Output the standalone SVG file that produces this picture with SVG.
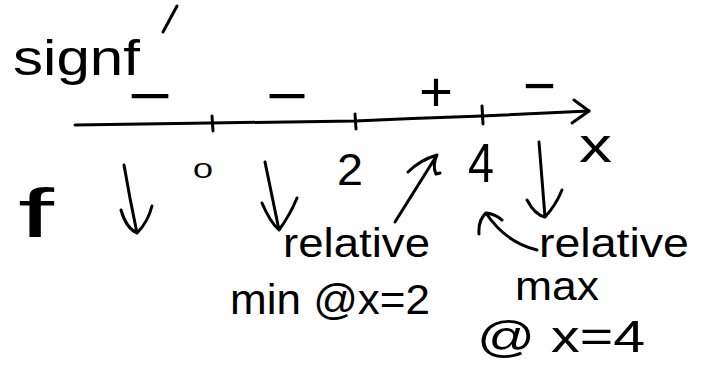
<svg xmlns="http://www.w3.org/2000/svg" width="704" height="369" viewBox="0 0 704 369">
<style>
.t{font-family:"Liberation Sans","DejaVu Sans",sans-serif;fill:#000}
.s{fill:none;stroke:#000;stroke-width:3;stroke-linecap:round;stroke-linejoin:round}
</style>
<rect width="704" height="369" fill="#fff"/>
<g id="title">
<text class="t" x="13" y="75" font-size="50" textLength="127" lengthAdjust="spacingAndGlyphs">signf</text>
<path class="s" d="M163,32 L177,6"/>
</g>
<g id="signs">
<text class="t" x="128" y="116" font-size="60" textLength="44" lengthAdjust="spacingAndGlyphs">−</text>
<text class="t" x="266" y="116" font-size="60" textLength="42" lengthAdjust="spacingAndGlyphs">−</text>
<text class="t" x="419" y="111" font-size="56" textLength="34" lengthAdjust="spacingAndGlyphs">+</text>
<text class="t" x="523" y="106" font-size="60" textLength="33" lengthAdjust="spacingAndGlyphs">−</text>
</g>
<g id="axis">
<path class="s" d="M75,125 L210,123 L355,121 Q420,118 482,116 L589,111"/>
<path class="s" d="M574,100 L589,111 L572,123"/>
<path class="s" d="M212,116 L213,131 M355,114 L356,129 M482,106 L483,124"/>
</g>
<g id="ticklabels">
<text class="t" x="193" y="178" font-size="22" textLength="20" lengthAdjust="spacingAndGlyphs">0</text>
<text class="t" x="337" y="185" font-size="44" textLength="26" lengthAdjust="spacingAndGlyphs">2</text>
<text class="t" x="468" y="182" font-size="56" textLength="26" lengthAdjust="spacingAndGlyphs">4</text>
<text class="t" x="579" y="162" font-size="48" textLength="33" lengthAdjust="spacingAndGlyphs">x</text>
</g>
<g id="f-label">
<text class="t" x="18" y="237" font-size="68" textLength="36" lengthAdjust="spacingAndGlyphs">f</text>
</g>
<g id="connectors">
<path class="s" d="M124,165 Q130,200 137,233 M121,210 Q126,228 137,233 Q148,222 152,206"/>
<path class="s" d="M265,162 L279,230 M262,203 Q270,222 279,230 Q290,215 297,198"/>
<path class="s" d="M539,142 L545,217 M527,200 Q535,215 545,217 Q556,205 562,190"/>
<path class="s" d="M395,222 L437,155 M408,172 Q420,160 437,155 Q432,166 436,174 L440,173"/>
<path class="s" d="M537,250 Q505,242 486,213 M479,234 Q478,220 486,213 Q495,214 502,220"/>
</g>
<g id="min-label">
<text class="t" x="283" y="257" font-size="40" textLength="147" lengthAdjust="spacingAndGlyphs">relative</text>
<text class="t" x="230" y="314" font-size="42" textLength="200" lengthAdjust="spacingAndGlyphs">min @x=2</text>
</g>
<g id="max-label">
<text class="t" x="539" y="257" font-size="40" textLength="150" lengthAdjust="spacingAndGlyphs">relative</text>
<text class="t" x="515" y="300" font-size="40" textLength="84" lengthAdjust="spacingAndGlyphs">max</text>
<text class="t" x="477" y="352" font-size="44" textLength="168" lengthAdjust="spacingAndGlyphs">@ x=4</text>
</g>
</svg>
